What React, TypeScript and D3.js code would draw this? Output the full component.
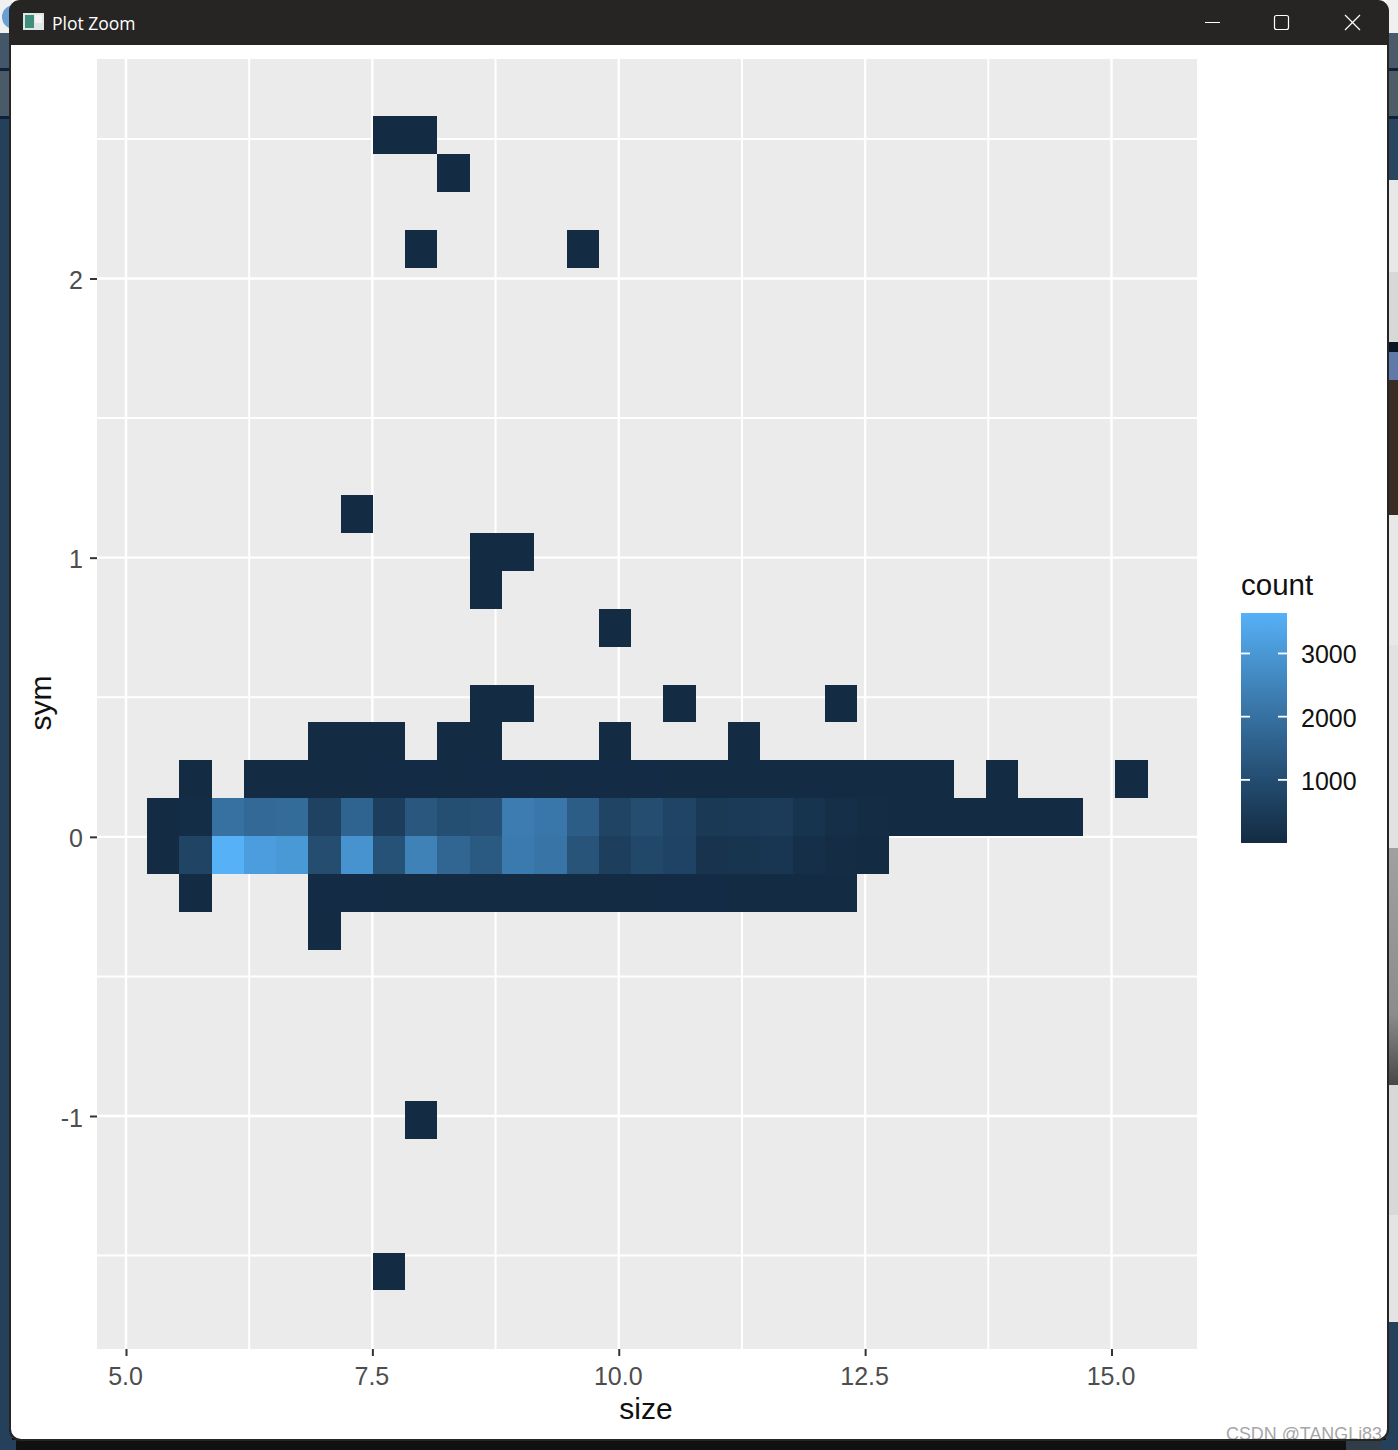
import React, { useEffect, useRef } from "react";
import * as d3 from "d3";

// bin grid (size / sym units)
const SIZE_START = 5.2132;
const SIZE_BIN = 0.32751;
const SYM_TOP = 2.5804;
const SYM_BIN = 0.13565;

// sparse rows, all of these bins hold a handful of points
const lowCols: number[] = [7, 8, 9, 8, 13, 6, 10, 11, 10, 14, 10, 11, 16, 21, 5, 6, 7, 9, 10, 14, 18, 1, 26, 30, 1, 5, 8, 7];
const lowRows: number[] = [0, 0, 1, 3, 3, 10, 11, 11, 12, 13, 15, 15, 15, 15, 16, 16, 16, 16, 16, 16, 16, 17, 17, 17, 20, 21, 26, 30];

// dense rows: [first column, counts...]
const row17Start = 3;
const row17Counts = [6, 8, 9, 12, 14, 15, 12, 14, 16, 18, 15, 14, 13, 12, 10, 9, 8, 7, 6, 5, 4, 3];
const row18Start = 0;
const row18Counts = [
  20, 70, 2000, 1800, 1850, 700, 1650, 550, 1300, 1050, 1100, 2300, 2150, 1450, 750,
  1000, 760, 420, 450, 480, 270, 130, 50, 12, 10, 8, 6, 5, 3,
];
const row19Start = 0;
const row19Counts = [
  20, 750, 3640, 3150, 3050, 1000, 2900, 1150, 2450, 1700, 1350, 2250, 2100, 1200, 580,
  850, 730, 260, 300, 330, 120, 50, 25,
];
const row20Start = 5;
const row20Counts = [14, 16, 18, 20, 22, 24, 25, 24, 22, 20, 18, 16, 14, 12, 10, 8, 5];

const xTicks = [5, 7.5, 10, 12.5, 15];
const xMinor = [6.25, 8.75, 11.25, 13.75];
const yTicks = [2, 1, 0, -1];
const yMinor = [2.5, 1.5, 0.5, -0.5, -1.5];
const legendTicks = [1000, 2000, 3000];
const COUNT_MIN = 1;
const COUNT_MAX = 3640;

// scraps of the desktop behind the Plot Zoom window
const rightStrip: [number, number, string][] = [
  [0, 33, "#f0f0f0"], [33, 68, "#4a5a6a"], [68, 71, "#0d2238"], [71, 116, "#4e5c68"], [116, 119, "#0d2238"],
  [119, 180, "#2a4560"], [180, 272, "#e8e8e8"], [272, 342, "#d8d8d8"], [342, 352, "#0a1525"],
  [352, 380, "#5f79a8"], [380, 515, "#3a2c22"], [515, 645, "#e8e8e8"], [645, 848, "#e2e2e2"],
  [848, 1085, "url(#strip-fade)"], [1085, 1215, "#d8d8d8"], [1215, 1322, "#e4e4e4"], [1322, 1450, "#24405a"],
];
const leftStrip: [number, number, string][] = [
  [0, 33, "#f0f0f0"], [33, 68, "#44566a"], [68, 71, "#0d2238"], [71, 116, "#4a5a68"], [116, 119, "#0d2238"],
  [119, 1450, "#24405a"],
];

const WIDTH = 1398;
const HEIGHT = 1450;
const panel = { left: 97, right: 1197, top: 59, bottom: 1349 };
const FONT = "'Liberation Sans', Arial, sans-serif";

const App = () => {
  const svgRef = useRef<SVGSVGElement>(null);

  useEffect(() => {
    const svg = d3.select(svgRef.current);
    svg.selectAll("*").remove();

    const x = d3.scaleLinear().domain([5, 15]).range([126, 1111.5]);
    const y = d3.scaleLinear().domain([-1, 2]).range([1116, 278.5]);
    const fill = d3
      .scaleLinear<string>()
      .domain([COUNT_MIN, COUNT_MAX])
      .range(["#132B43", "#56B1F7"])
      .interpolate(d3.interpolateLab);

    const defs = svg.append("defs");
    const fade = defs.append("linearGradient").attr("id", "strip-fade").attr("x1", 0).attr("x2", 0).attr("y1", 0).attr("y2", 1);
    fade.append("stop").attr("offset", 0).attr("stop-color", "#a0a0a0");
    fade.append("stop").attr("offset", 0.7).attr("stop-color", "#8c8c8c");
    fade.append("stop").attr("offset", 1).attr("stop-color", "#474747");

    // desktop + window chrome
    const chrome = svg.append("g");
    chrome.append("rect").attr("x", 0).attr("y", 1438).attr("width", WIDTH).attr("height", 12).attr("fill", "#111111");
    chrome.append("rect").attr("x", 0).attr("y", 1440).attr("width", 16).attr("height", 10).attr("fill", "#24405a");
    chrome.append("rect").attr("x", 1346).attr("y", 1440).attr("width", 36).attr("height", 10).attr("fill", "#2f3d48");
    chrome.append("rect").attr("x", 1382).attr("y", 1440).attr("width", 16).attr("height", 10).attr("fill", "#24405a");
    chrome
      .selectAll(".strip-l")
      .data(leftStrip)
      .enter()
      .append("rect")
      .attr("x", 0)
      .attr("y", (d) => d[0])
      .attr("width", 12)
      .attr("height", (d) => d[1] - d[0])
      .attr("fill", (d) => d[2]);
    chrome
      .selectAll(".strip-r")
      .data(rightStrip)
      .enter()
      .append("rect")
      .attr("x", 1386)
      .attr("y", (d) => d[0])
      .attr("width", 12)
      .attr("height", (d) => d[1] - d[0])
      .attr("fill", (d) => d[2]);
    chrome.append("circle").attr("cx", 14).attr("cy", 17).attr("r", 12).attr("fill", "#6a9fd4");
    chrome.append("rect").attr("x", 9).attr("y", 0).attr("width", 1380).attr("height", 1441).attr("rx", 11).attr("fill", "#262524");
    chrome.append("rect").attr("x", 11).attr("y", 45).attr("width", 1376).attr("height", 1394).attr("rx", 10).attr("fill", "#ffffff");
    chrome.append("rect").attr("x", 11).attr("y", 45).attr("width", 1376).attr("height", 30).attr("fill", "#ffffff");

    // title bar
    chrome.append("rect").attr("x", 23).attr("y", 13).attr("width", 21).attr("height", 17).attr("fill", "#dfe6e6");
    chrome.append("rect").attr("x", 25).attr("y", 15).attr("width", 9).attr("height", 13).attr("fill", "#3f8f7f");
    chrome.append("rect").attr("x", 35).attr("y", 15).attr("width", 7).attr("height", 8).attr("fill", "#f4f4f4");
    chrome
      .append("text")
      .attr("x", 52)
      .attr("y", 30)
      .attr("font-family", "'Open Sans', 'Noto Sans', sans-serif")
      .attr("font-size", 17.5)
      .attr("fill", "#ffffff")
      .text("Plot Zoom");
    chrome.append("line").attr("x1", 1205).attr("x2", 1220).attr("y1", 22.5).attr("y2", 22.5).attr("stroke", "#ffffff");
    chrome.append("rect").attr("x", 1274.5).attr("y", 15.5).attr("width", 14).attr("height", 14).attr("rx", 2).attr("fill", "none").attr("stroke", "#ffffff").attr("stroke-width", 1.2);
    chrome.append("path").attr("d", "M1345,15L1360,30M1360,15L1345,30").attr("stroke", "#ffffff").attr("stroke-width", 1.2).attr("fill", "none");

    // panel + grid
    svg
      .append("rect")
      .attr("x", panel.left)
      .attr("y", panel.top)
      .attr("width", panel.right - panel.left)
      .attr("height", panel.bottom - panel.top)
      .attr("fill", "#EBEBEB");

    const grid = svg.append("g").attr("stroke", "#ffffff").attr("fill", "none");
    const vLine = (v: number, w: number) =>
      grid.append("line").attr("x1", x(v)).attr("x2", x(v)).attr("y1", panel.top).attr("y2", panel.bottom).attr("stroke-width", w);
    const hLine = (v: number, w: number) =>
      grid.append("line").attr("y1", y(v)).attr("y2", y(v)).attr("x1", panel.left).attr("x2", panel.right).attr("stroke-width", w);
    xMinor.forEach((v) => vLine(v, 2));
    yMinor.forEach((v) => hLine(v, 2));
    xTicks.forEach((v) => vLine(v, 2.4));
    yTicks.forEach((v) => hLine(v, 2.4));

    // collect bins
    const cells: { col: number; row: number; count: number }[] = [];
    lowCols.forEach((col, i) => cells.push({ col, row: lowRows[i], count: COUNT_MIN }));
    const addRow = (row: number, start: number, counts: number[]) =>
      counts.forEach((count, i) => cells.push({ col: start + i, row, count }));
    addRow(17, row17Start, row17Counts);
    addRow(18, row18Start, row18Counts);
    addRow(19, row19Start, row19Counts);
    addRow(20, row20Start, row20Counts);

    svg
      .append("g")
      .attr("shape-rendering", "crispEdges")
      .selectAll(".cell")
      .data(cells)
      .enter()
      .append("rect")
      .attr("x", (d) => x(SIZE_START + d.col * SIZE_BIN))
      .attr("width", (d) => x(SIZE_START + (d.col + 1) * SIZE_BIN) - x(SIZE_START + d.col * SIZE_BIN))
      .attr("y", (d) => y(SYM_TOP - d.row * SYM_BIN))
      .attr("height", (d) => y(SYM_TOP - (d.row + 1) * SYM_BIN) - y(SYM_TOP - d.row * SYM_BIN))
      .attr("fill", (d) => fill(d.count));

    // axes
    const styleAxis = (g: any) => {
      g.select(".domain").remove();
      g.selectAll(".tick line").attr("stroke", "#333333").attr("stroke-width", 2);
      g.selectAll(".tick text").attr("fill", "#4D4D4D").attr("font-size", 25).attr("font-family", FONT);
    };
    const xAxisG = svg
      .append("g")
      .attr("transform", `translate(0,${panel.bottom})`)
      .call(d3.axisBottom(x).tickValues(xTicks).tickSize(7).tickPadding(11).tickFormat(d3.format(".1f") as any))
      .call(styleAxis);
    xAxisG.selectAll(".tick text").attr("dx", -1);
    const yAxisG = svg
      .append("g")
      .attr("transform", `translate(${panel.left},0)`)
      .call(d3.axisLeft(y).tickValues(yTicks).tickSize(7).tickPadding(7).tickFormat((d: any) => String(d)))
      .call(styleAxis);
    yAxisG.selectAll(".tick text").attr("y", 2);

    svg
      .append("text")
      .attr("x", 646)
      .attr("y", 1419)
      .attr("text-anchor", "middle")
      .attr("font-family", FONT)
      .attr("font-size", 30)
      .attr("fill", "#111111")
      .text("size");
    svg
      .append("text")
      .attr("transform", "translate(51,703) rotate(-90)")
      .attr("text-anchor", "middle")
      .attr("font-family", FONT)
      .attr("font-size", 30)
      .attr("fill", "#111111")
      .text("sym");

    // legend
    const legend = { left: 1241, right: 1287, top: 613, bottom: 843 };
    const legendY = d3.scaleLinear().domain([COUNT_MIN, COUNT_MAX]).range([legend.bottom, legend.top]);
    const gradient = defs
      .append("linearGradient")
      .attr("id", "count-ramp")
      .attr("x1", 0)
      .attr("x2", 0)
      .attr("y1", 1)
      .attr("y2", 0);
    d3.range(0, 21).forEach((i) => {
      gradient
        .append("stop")
        .attr("offset", i / 20)
        .attr("stop-color", fill(COUNT_MIN + ((COUNT_MAX - COUNT_MIN) * i) / 20));
    });
    svg
      .append("rect")
      .attr("x", legend.left)
      .attr("y", legend.top)
      .attr("width", legend.right - legend.left)
      .attr("height", legend.bottom - legend.top)
      .attr("fill", "url(#count-ramp)");
    const legendG = svg.append("g");
    legendTicks.forEach((t) => {
      legendG.append("line").attr("x1", legend.left).attr("x2", legend.left + 9).attr("y1", legendY(t)).attr("y2", legendY(t)).attr("stroke", "#ffffff").attr("stroke-width", 1.8);
      legendG.append("line").attr("x1", legend.right - 9).attr("x2", legend.right).attr("y1", legendY(t)).attr("y2", legendY(t)).attr("stroke", "#ffffff").attr("stroke-width", 1.8);
      legendG
        .append("text")
        .attr("x", 1301)
        .attr("y", legendY(t) + 2)
        .attr("dy", "0.32em")
        .attr("font-family", FONT)
        .attr("font-size", 25)
        .attr("fill", "#111111")
        .text(t);
    });
    svg
      .append("text")
      .attr("x", 1241)
      .attr("y", 595)
      .attr("font-family", FONT)
      .attr("font-size", 29.5)
      .attr("fill", "#111111")
      .text("count");

    // watermark, cut off by the bottom of the window
    const clip = defs.append("clipPath").attr("id", "window-clip");
    clip.append("rect").attr("x", 11).attr("y", 45).attr("width", 1376).attr("height", 1394);
    svg
      .append("text")
      .attr("x", 1226)
      .attr("y", 1440)
      .attr("clip-path", "url(#window-clip)")
      .attr("font-family", FONT)
      .attr("font-size", 17.9)
      .attr("fill", "#a6a6a6")
      .text("CSDN @TANGLi83");
  }, []);

  return (
    <svg
      ref={svgRef}
      width={WIDTH}
      height={HEIGHT}
      style={{ position: "absolute", left: 0, top: 0, display: "block" }}
    />
  );
};

export default App;
